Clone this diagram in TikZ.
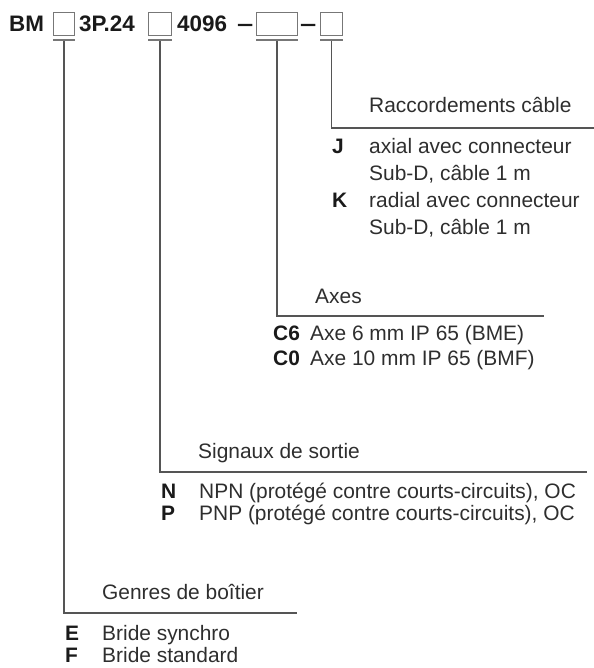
\documentclass[tikz,border=0pt]{standalone}
\usepackage{fontspec}
\usepackage{graphicx}
\setmainfont{Liberation Sans}
\definecolor{txt}{HTML}{2E2E2E}
\definecolor{hd}{HTML}{1A1A1A}
\definecolor{ln}{HTML}{555555}
\definecolor{bx}{HTML}{777777}
\begin{document}
\begin{tikzpicture}[x=1bp,y=-1bp,
  hdr/.style={anchor=base west, inner sep=0pt, text=hd, font=\fontsize{22.5}{27}\selectfont\bfseries},
  body/.style={anchor=base west, inner sep=0pt, text=txt, font=\fontsize{21}{25}\selectfont},
  keyl/.style={anchor=base west, inner sep=0pt, text=hd, font=\fontsize{21}{25}\selectfont\bfseries},
  slot/.style={draw=bx, line width=0.9bp, inner sep=0pt, minimum height=23bp, anchor=north west},
  bar/.style={draw=bx, line width=1.8bp},
  lead/.style={draw=ln, line width=1.1bp}]
\useasboundingbox (0,0) rectangle (594,668);

% header
\node[hdr] (bm) at (9,32) {BM};
\node[slot, minimum width=21bp] (b1) at (53,12) {};
\node[hdr] (p24) at (79,32) {3P.24};
\node[slot, minimum width=23bp] (b2) at (148,12) {};
\node[hdr] (n4096) at (177,32) {4096};
\node[hdr] (d1) at (237,32) {\scalebox{1.3}[1]{–}};
\node[slot, minimum width=41bp] (b3) at (256,12) {};
\node[hdr] (d2) at (300,32) {\scalebox{1.3}[1]{–}};
\node[slot, minimum width=22bp] (b4) at (320,12) {};

% underlines
\foreach \b in {b1,b2,b3,b4}{
  \draw[bar] ([yshift=-4.5bp]\b.south west) -- ([yshift=-4.5bp]\b.south east);
  \coordinate (t\b) at ([yshift=-5bp]\b.south);
}

% line ends
\coordinate (e4) at (594,128);
\coordinate (e3) at (544,316);
\coordinate (e2) at (587,472);
\coordinate (e1) at (297,613);

\draw[lead] (tb4) |- (e4);
\draw[lead] (tb3) |- (e3);
\draw[lead] (tb2) |- (e2);
\draw[lead] (tb1) |- (e1);

% Raccordements
\node[body] (h4) at (369,113) {Raccordements câble};
\node[keyl] (kJ) at (332,153) {J};
\node[body] (tJ1) at (369,153) {axial avec connecteur};
\node[body] (tJ2) at (369,180) {Sub-D, câble 1 m};
\node[keyl] (kK) at (332,207) {K};
\node[body] (tK1) at (369,207) {radial avec connecteur};
\node[body] (tK2) at (369,234) {Sub-D, câble 1 m};

% Axes
\node[body] (h3) at (315,303) {Axes};
\node[keyl] (kC6) at (273,340) {C6};
\node[body] (tC6) at (310,340) {Axe 6 mm IP 65 (BME)};
\node[keyl] (kC0) at (273,365) {C0};
\node[body] (tC0) at (310,365) {Axe 10 mm IP 65 (BMF)};

% Signaux
\node[body] (h2) at (198,458) {Signaux de sortie};
\node[keyl] (kN) at (161,498) {N};
\node[body] (tN) at (199,498) {NPN (protégé contre courts-circuits), OC};
\node[keyl] (kP) at (161,520) {P};
\node[body] (tP) at (199,520) {PNP (protégé contre courts-circuits), OC};

% Genres
\node[body] (h1) at (102,599) {Genres de boîtier};
\node[keyl] (kE) at (65,640) {E};
\node[body] (tE) at (102,640) {Bride synchro};
\node[keyl] (kF) at (65,662) {F};
\node[body] (tF) at (102,662) {Bride standard};
\end{tikzpicture}
\end{document}
